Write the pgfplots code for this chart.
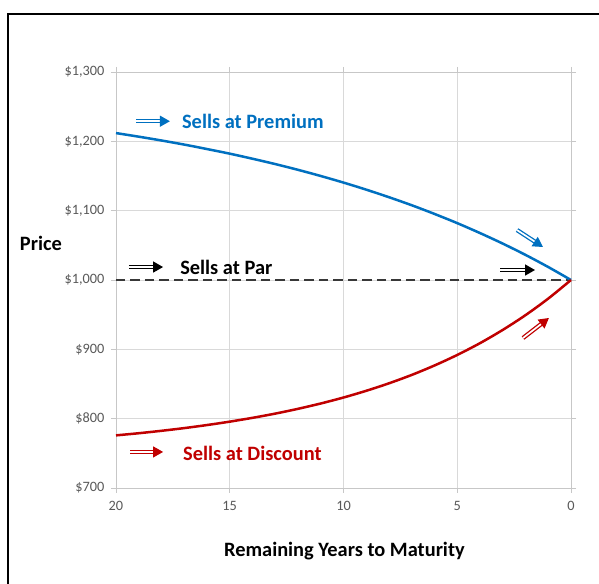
\documentclass[border=0pt]{standalone}
\usepackage{fontspec}
\setmainfont{Carlito}
\usepackage{pgfplots}
\pgfplotsset{compat=1.18}
\usetikzlibrary{arrows.meta}
\definecolor{PremBlue}{HTML}{0070C0}
\definecolor{DiscRed}{HTML}{C00000}
\definecolor{ParGray}{HTML}{383838}
\definecolor{GridGray}{HTML}{D9D9D9}
\definecolor{TickGray}{HTML}{595959}

\begin{document}
\begin{tikzpicture}[x=1pt,y=1pt]
\clip (0,0) rectangle (599,583);
\fill[white] (0,0) rectangle (599,583);
% outer frame (cut off at right and bottom)
\draw[black, line width=1.5pt] (8,-20) -- (8,569) -- (620,569);

\begin{axis}[
    at={(116pt,95pt)}, anchor=south west,
    scale only axis,
    width=455pt, height=416pt,
    x dir=reverse,
    xmin=0, xmax=20, ymin=700, ymax=1300,
    xtick={0,5,10,15,20},
    ytick={700,800,900,1000,1100,1200,1300},
    yticklabels={{\$700},{\$800},{\$900},{\$1,000},{\$1,100},{\$1,200},{\$1,300}},
    grid=major,
    grid style={GridGray, line width=0.8pt},
    axis line style={GridGray!80!gray, line width=0.8pt},
    tick style={GridGray!80!gray, line width=0.8pt},
    tick align=outside,
    major tick length=5pt,
    /pgf/number format/assume math mode=true,
    ticklabel style={font=\fontsize{14.3}{16}\selectfont, text=TickGray},
    xticklabel style={yshift=-5pt},
    yticklabel style={xshift=-3pt},
    xlabel={Remaining Years to Maturity},
    ylabel={Price},
    xlabel style={font=\bfseries\fontsize{20.4}{23}\selectfont, at={(axis description cs:0.502,-0.151)}, anchor=center},
    ylabel style={font=\bfseries\fontsize{20.4}{23}\selectfont, rotate=-90, at={(axis description cs:-0.165,0.589)}, anchor=center},
    clip=false,
]
% par line
\addplot[ParGray, line width=2.8pt, dash pattern=on 9.5pt off 5pt] coordinates {(20,1000) (0,1000)};
% premium bond
\addplot[PremBlue, line width=2.5pt, smooth] coordinates {
(20,1211.9) (19,1206.7) (18,1201.2) (17,1195.3) (16,1188.9) (15,1182.2)
(14,1174.9) (13,1167.2) (12,1158.9) (11,1150.0) (10,1140.5) (9,1130.3)
(8,1119.4) (7,1107.8) (6,1095.3) (5,1082.0) (4,1067.7) (3,1052.5)
(2,1036.2) (1,1018.7) (0,1000)
};
% discount bond
\addplot[DiscRed, line width=2.5pt, smooth] coordinates {
(20,775.9) (19,779.0) (18,782.5) (17,786.4) (16,790.8) (15,795.7)
(14,801.2) (13,807.3) (12,814.2) (11,821.9) (10,830.5) (9,840.2)
(8,851.0) (7,863.1) (6,876.7) (5,891.9) (4,908.9) (3,928.0)
(2,949.3) (1,973.2) (0,1000)
};

% annotations
\tikzset{dbl/.style={draw=#1, double=white, line width=1.3pt, double distance=1.7pt,
  -{Triangle[length=10pt,width=11pt,fill=#1]}}}
\draw[dbl=PremBlue] (axis cs:19.12,1229) -- (axis cs:17.63,1229);
\node[anchor=west, text=PremBlue, font=\bfseries\fontsize{20.4}{23}\selectfont] at (axis cs:17.25,1228) {Sells at Premium};
\draw[dbl=black] (axis cs:19.43,1018.7) -- (axis cs:17.93,1018.7);
\node[anchor=west, text=black, font=\bfseries\fontsize{20.4}{23}\selectfont] at (axis cs:17.33,1017.5) {Sells at Par};
\draw[dbl=DiscRed] (axis cs:19.38,752) -- (axis cs:17.93,752);
\node[anchor=west, text=DiscRed, font=\bfseries\fontsize{20.4}{23}\selectfont] at (axis cs:17.2,750) {Sells at Discount};

\draw[dbl=PremBlue] (axis cs:2.37,1072) -- (axis cs:1.23,1047.6);
\draw[dbl=black] (axis cs:3.12,1014.4) -- (axis cs:1.58,1014.4);
\draw[dbl=DiscRed] (axis cs:2.11,916.3) -- (axis cs:0.97,945.2);
\end{axis}
\end{tikzpicture}
\end{document}
